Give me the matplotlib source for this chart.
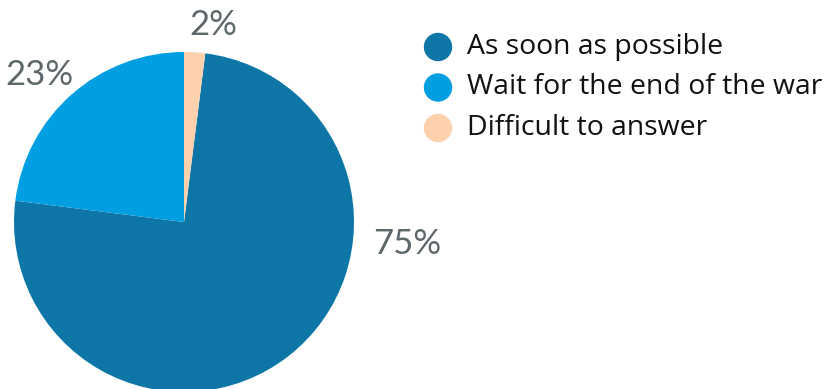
import matplotlib
matplotlib.use("Agg")
import matplotlib.pyplot as plt

categories = ["As soon as possible", "Wait for the end of the war", "Difficult to answer"]
values = [75, 23, 2]
labels = ["75%", "23%", "2%"]
colors = ["#0e76a7", "#019fe1", "#fcd1ac"]

# label anchor positions (in pie radius units), hand placed like the original
label_pos = [(1.31, -0.13), (-0.85, 0.865), (0.17, 1.16)]

W, H = 830, 389
fig = plt.figure(figsize=(W / 100, H / 100), dpi=100)

# pie box: centre (184, 222) px, radius 170 px
cx, cy, r = 184, 222, 170
ax = fig.add_axes([(cx - r) / W, (H - cy - r) / H, 2 * r / W, 2 * r / H])
start = 90 - values[2] / sum(values) * 360
ax.pie(values, colors=colors, startangle=start, counterclock=False,
       radius=1, wedgeprops=dict(linewidth=0))
ax.set_xlim(-1, 1)
ax.set_ylim(-1, 1)
ax.set_aspect("equal")
ax.axis("off")

for lab, (lx, ly) in zip(labels, label_pos):
    ax.text(lx, ly, lab, ha="center", va="center", fontsize=25,
            family="Lato", color="#5e686b", clip_on=False)

# legend drawn by hand
for i, (cat, col) in enumerate(zip(categories, colors)):
    y = H - (47 + i * 40.5)
    fig.patches.append(plt.Circle((438, y), 13.5, color=col,
                                  transform=None, figure=fig))
    fig.text(467 / W, y / H, cat, ha="left", va="center", fontsize=20.4,
             family="Open Sans", color="#111111")

fig.savefig("out.png", dpi=100)
